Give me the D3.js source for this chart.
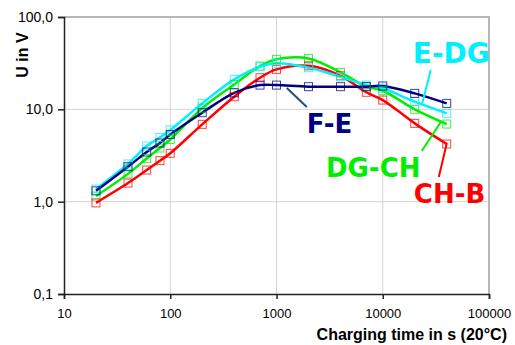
<!DOCTYPE html>
<html lang="en">
    <head>
        <meta charset="utf-8">
        <title>Charging time</title>
        <script type="text/javascript" src="https://cdn.jsdelivr.net/npm/d3@7"></script>
        <style type="text/css">
        body {
            margin: 0;
            background: white;
        }
        .axis path,
        .axis line {
            fill: none;
            stroke: #222;
            stroke-width: 1.5;
        }
        .axis text {
            font-family: "Liberation Sans", Arial, sans-serif;
            fill: black;
        }
        .grid line {
            stroke: #d4d4d4;
        }
        .label {
            font-family: "DejaVu Sans", Verdana, sans-serif;
            font-weight: bold;
        }
        </style>
    </head>
    <body>
        <script>
                var w = 515;
                var h = 345;

                // charging time in s
                var times = [20, 40, 60, 80, 100, 200, 400, 700, 1000, 2000, 4000, 7000, 10000, 20000, 40000];

                var chB  = [0.97, 1.59, 2.2, 2.78, 3.34, 6.88, 13.7, 22.0, 27.1, 29.6, 23.1, 15.3, 12.6, 7.05, 4.21];
                var dgCh = [1.15, 2.0, 2.94, 3.81, 4.71, 10.3, 18.6, 29.4, 34.8, 35.6, 25.1, 17.6, 15.9, 10.0, 6.93];
                var eDg  = [1.37, 2.56, 4.0, 4.95, 5.97, 11.6, 21.1, 28.9, 31.5, 28.2, 22.5, 18.3, 16.9, 12.1, 9.05];
                var fE   = [1.31, 2.39, 3.45, 4.32, 5.34, 9.2, 15.1, 18.3, 18.3, 17.6, 17.6, 17.6, 17.9, 14.9, 11.6];

                var xTicks = [10, 100, 1000, 10000, 100000];
                var yTicks = [0.1, 1, 10, 100];

                var series = [
                    {name: "DG-CH", values: dgCh, color: "#00ee00"},
                    {name: "CH-B", values: chB, color: "#ff0000"},
                    {name: "E-DG", values: eDg, color: "#00f0ff"},
                    {name: "F-E", values: fE, color: "#000080"}
                ];

                // labels: text position and leader line, in data units
                var labels = [
                    {text: "E-DG", color: "#00f0ff", size: 28, x: 19200, y: 31.7, line: [[28300, 26.6], [23300, 11.1]]},
                    {text: "F-E", color: "#000080", size: 26, x: 1930, y: 5.54, line: [[1250, 17.0], [1930, 10.6]], lineColor: "#1f5080"},
                    {text: "DG-CH", color: "#00ee00", size: 26, x: 2920, y: 1.87, line: [[35200, 7.29], [23300, 3.54]]},
                    {text: "CH-B", color: "#ff0000", size: 26, x: 19600, y: 0.956, line: [[40100, 4.32], [33700, 1.85]]}
                ];

                var xScale = d3.scaleLog()
                  .domain([10, 100000])
                  .range([64, 489]);

                var yScale = d3.scaleLog()
                  .domain([0.1, 100])
                  .range([294, 17]);

                var svg = d3.select("body")
                  .append("svg")
                  .attr("width", w)
                  .attr("height", h);

                // grid
                svg.append("g")
                  .attr("class", "grid")
                  .selectAll("line.h")
                  .data(yTicks.slice(1, 3))
                  .enter().append("line")
                  .attr("x1", 64).attr("x2", 489)
                  .attr("y1", function(d) { return yScale(d); })
                  .attr("y2", function(d) { return yScale(d); });

                svg.select(".grid")
                  .selectAll("line.v")
                  .data(xTicks.slice(1, 4))
                  .enter().append("line")
                  .attr("y1", 17).attr("y2", 294)
                  .attr("x1", function(d) { return xScale(d); })
                  .attr("x2", function(d) { return xScale(d); });

                // plot border (top + right)
                svg.append("path")
                  .attr("d", "M64," + yScale(100) + "H" + xScale(100000) + "V" + yScale(0.1))
                  .attr("fill", "none")
                  .attr("stroke", "#a0a0a0")
                  .attr("stroke-width", 1.5);

                var line = d3.line()
                  .x(function(d, i) { return xScale(times[i]); })
                  .y(function(d) { return yScale(d); })
                  .curve(d3.curveCatmullRom.alpha(0.5));

                series.forEach(function(s) {
                    svg.append("path")
                      .datum(s.values)
                      .attr("d", line)
                      .attr("fill", "none")
                      .attr("stroke", s.color)
                      .attr("stroke-width", 2.5);
                });

                series.forEach(function(s) {
                    svg.append("g").selectAll("rect")
                      .data(s.values)
                      .enter().append("rect")
                      .attr("x", function(d, i) { return xScale(times[i]) - 4; })
                      .attr("y", function(d) { return yScale(d) - 4; })
                      .attr("width", 8)
                      .attr("height", 8)
                      .attr("fill", "none")
                      .attr("stroke", s.color)
                      .attr("stroke-opacity", 0.75)
                      .attr("stroke-width", 1);
                });

                // axes
                svg.append("g")
                  .attr("class", "axis")
                  .attr("transform", "translate(0," + yScale(0.1) + ")")
                  .call(d3.axisBottom(xScale).tickValues(xTicks).tickFormat(d3.format("d")).tickSize(5).tickPadding(10))
                  .selectAll("text").style("font-size", "13px");

                svg.append("g")
                  .attr("class", "axis")
                  .attr("transform", "translate(64,0)")
                  .call(d3.axisLeft(yScale).tickValues(yTicks)
                    .tickFormat(function(d) { return d3.format(".1f")(d).replace(".", ","); })
                    .tickSize(6).tickPadding(5))
                  .selectAll("text").style("font-size", "14px");

                svg.selectAll(".axis .domain").attr("stroke-width", 1.5);

                // labels
                labels.forEach(function(l) {
                    svg.append("line")
                      .attr("x1", xScale(l.line[0][0])).attr("y1", yScale(l.line[0][1]))
                      .attr("x2", xScale(l.line[1][0])).attr("y2", yScale(l.line[1][1]))
                      .attr("stroke", l.lineColor || l.color)
                      .attr("stroke-width", 2);
                    svg.append("text")
                      .attr("class", "label")
                      .attr("x", xScale(l.x))
                      .attr("y", yScale(l.y))
                      .attr("fill", l.color)
                      .style("font-size", l.size + "px")
                      .text(l.text);
                });

                svg.append("text")
                  .text("Charging time in s (20°C)")
                  .attr("x", 507)
                  .attr("y", 340)
                  .attr("text-anchor", "end")
                  .style("font-family", "'Liberation Sans', Arial, sans-serif")
                  .style("font-weight", "bold")
                  .style("font-size", "16px");

                svg.append("text")
                  .text("U in V")
                  .attr("transform", "rotate(-90)")
                  .attr("x", -55)
                  .attr("y", 28)
                  .attr("text-anchor", "middle")
                  .style("font-family", "'Liberation Sans', Arial, sans-serif")
                  .style("font-weight", "bold")
                  .style("font-size", "16px");

            </script>
    </body>
</html>
